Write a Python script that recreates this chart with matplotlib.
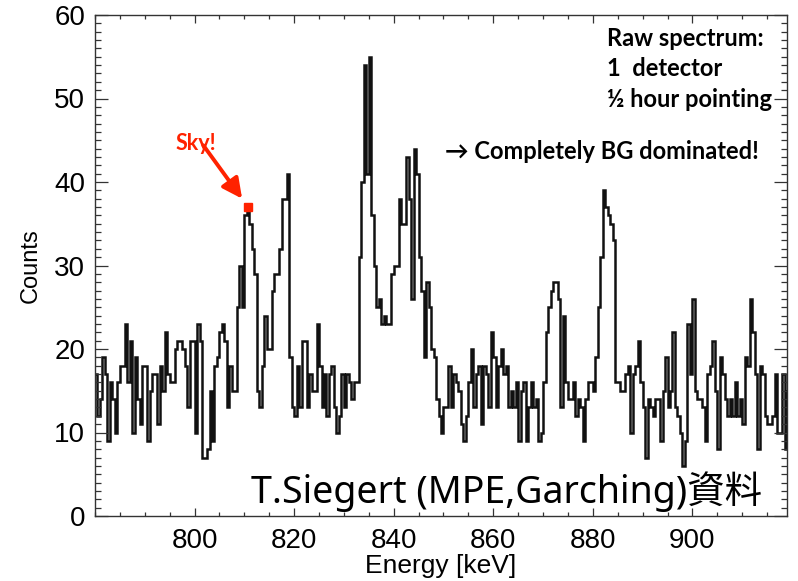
import numpy as np
import matplotlib
matplotlib.use("Agg")
import matplotlib.pyplot as plt
from matplotlib.ticker import MultipleLocator

plt.rcParams['font.family'] = ['Liberation Sans Narrow', 'Liberation Sans', 'DejaVu Sans']

## spectrum: 0.5 keV bins starting at 780 keV, counts
energy_start = 780.0
bin_width = 0.5

counts_780_800 = [17, 12, 14, 19, 17, 9, 16, 14, 10, 16, 18, 18, 23, 16, 21, 10, 19, 14, 11, 18,
                  18, 9, 15, 17, 17, 11, 18, 15, 22, 17, 16, 16, 20, 21, 21, 20, 18, 13, 21, 21]
counts_800_820 = [10, 23, 21, 7, 7, 8, 15, 9, 18, 19, 22, 23, 21, 13, 18, 15, 15, 25, 30, 25,
                  36, 37, 35, 32, 29, 15, 13, 18, 24, 20, 20, 27, 29, 29, 32, 38, 38, 41, 19, 13]
counts_820_840 = [12, 18, 13, 21, 21, 13, 17, 15, 15, 23, 18, 13, 17, 12, 17, 18, 13, 10, 12, 17,
                  13, 17, 16, 14, 16, 16, 31, 40, 54, 41, 55, 36, 30, 25, 26, 23, 24, 23, 23, 29]
counts_840_860 = [30, 30, 38, 35, 35, 43, 38, 26, 44, 41, 31, 27, 19, 28, 25, 20, 19, 14, 12, 10,
                  13, 13, 18, 13, 17, 16, 15, 11, 9, 12, 16, 20, 13, 17, 18, 11, 18, 17, 13, 22]
counts_860_880 = [19, 13, 18, 20, 17, 18, 13, 15, 13, 16, 9, 15, 16, 9, 13, 16, 13, 14, 9, 10,
                  16, 22, 25, 27, 28, 28, 26, 13, 24, 16, 14, 14, 16, 12, 14, 13, 9, 14, 16, 16]
counts_880_900 = [15, 19, 25, 31, 39, 37, 36, 35, 33, 16, 16, 15, 15, 17, 18, 10, 17, 18, 21, 16,
                  13, 7, 14, 13, 12, 14, 14, 9, 15, 19, 13, 15, 22, 13, 12, 10, 6, 9, 23, 17]
counts_900_920 = [26, 15, 14, 14, 13, 9, 17, 18, 21, 15, 8, 19, 17, 14, 12, 14, 12, 16, 12, 14,
                  11, 19, 18, 26, 22, 17, 8, 18, 17, 12, 11, 11, 12, 17, 10, 10, 17, 8, 15]

counts = np.array(counts_780_800 + counts_800_820 + counts_820_840 + counts_840_860
                  + counts_860_880 + counts_880_900 + counts_900_920, dtype=float)
edges = energy_start + bin_width * np.arange(len(counts) + 1)
centers = 0.5 * (edges[:-1] + edges[1:])

## the "Sky!" bin: highest bin between 805 and 815 keV
sky_range = (805, 815)

fig = plt.figure(figsize=(7.98, 5.81), dpi=100)
ax = fig.add_axes([95 / 798, 65 / 581, 692 / 798, 501 / 581])

ax.stairs(counts, edges, baseline=None, color='#111111', lw=1.8)

ax.set_xlim(780, 919)
ax.set_ylim(0, 60)
ax.set_xticks(np.arange(800, 901, 20))
ax.set_yticks(np.arange(0, 61, 10))
ax.xaxis.set_minor_locator(MultipleLocator(5))
ax.yaxis.set_minor_locator(MultipleLocator(1))
ax.tick_params(which='both', direction='in', top=True, right=True, color='#333333', width=0.9)
ax.tick_params(axis='x', which='major', length=6, pad=9, labelsize=20)
ax.tick_params(axis='x', which='minor', length=3)
ax.tick_params(axis='y', which='major', length=9.5, pad=7, labelsize=20)
ax.tick_params(axis='y', which='minor', length=4.5)
for s in ax.spines.values():
    s.set_linewidth(1.0)
    s.set_color('#333333')

ax.set_xlabel("Energy [keV]", fontsize=19, labelpad=0)
ax.set_ylabel("Counts", fontsize=17, labelpad=9)

## annotations
txt_font = ['Lato', 'DejaVu Sans']
note_size = 17
ax.text(0.74, 0.954, "Raw spectrum:", transform=ax.transAxes, fontsize=note_size,
        fontweight='bold', family=txt_font, va='center', ha='left')
ax.text(0.74, 0.894, "1  detector", transform=ax.transAxes, fontsize=note_size,
        fontweight='bold', family=txt_font, va='center', ha='left')
ax.text(0.74, 0.832, "\u00bd hour pointing", transform=ax.transAxes, fontsize=note_size,
        fontweight='bold', family=txt_font, va='center', ha='left')
ax.text(0.506, 0.727, "\u2192 Completely BG dominated!", transform=ax.transAxes, fontsize=note_size,
        fontweight='bold', family=txt_font, va='center', ha='left')

mask = (centers > sky_range[0]) & (centers < sky_range[1])
i_sky = np.where(mask)[0][np.argmax(counts[mask])]
x_sky, y_sky = centers[i_sky], counts[i_sky]
ax.plot([x_sky], [y_sky], marker='s', ms=5.5, color='#ff2200', mec='#ff2200', zorder=5)
ax.annotate("", xy=(x_sky - 1.2, y_sky + 1.0), xytext=(x_sky - 9.0, y_sky + 7.4),
            arrowprops=dict(arrowstyle='-|>', color='#ff2200', lw=2.8, mutation_scale=30,
                            shrinkA=0, shrinkB=0))
ax.text(x_sky - 10.4, y_sky + 6.8, "Sky!", color='#ff2200', fontsize=15.5, fontweight='bold',
        family=txt_font, ha='center', va='baseline')

ax.text(0.225, 0.026, "T.Siegert (MPE,Garching)\u8cc7\u6599", transform=ax.transAxes,
        fontsize=27, family=['Noto Sans', 'Noto Sans CJK JP'], ha='left', va='baseline')

fig.savefig("out.png", dpi=100)
